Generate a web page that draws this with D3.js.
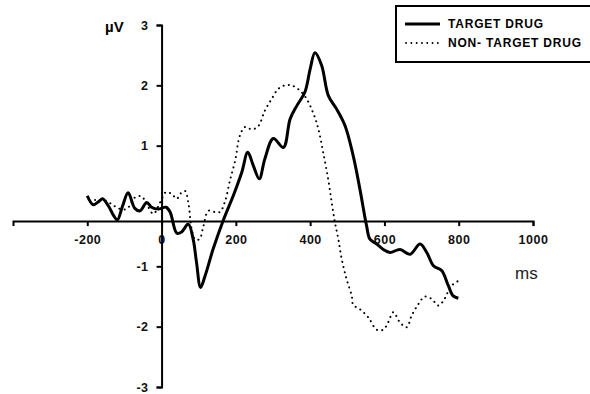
<!DOCTYPE html>
<html>
<head>
<meta charset="utf-8">
<script src="https://cdn.jsdelivr.net/npm/d3@7"></script>
<style>
  body { margin: 0; background: white; }
  text { font-family: "Liberation Sans", Arial, sans-serif; }
</style>
</head>
<body>
<script>
var width = 590, height = 394

// target drug ERP (ms, uV)
var targetTime = [-200, -184, -168, -159, -143, -130, -119, -105, -90, -72, -58, -40, -27, -9, 12, 23, 41, 54, 72, 85, 94, 105, 117, 139, 166, 193, 216, 232, 247, 263, 278, 301, 328, 346, 364, 386, 400, 413, 431, 449, 471, 494, 516, 534, 552, 561, 579, 597, 615, 642, 669, 696, 714, 732, 754, 772, 785, 799]
var targetAmp = [0.17, 0.02, 0.08, 0.12, 0.0, -0.15, -0.23, 0.0, 0.22, -0.04, -0.08, 0.06, -0.02, -0.05, -0.02, -0.1, -0.45, -0.43, -0.3, -0.55, -0.93, -1.35, -1.16, -0.71, -0.24, 0.17, 0.56, 0.89, 0.67, 0.45, 0.78, 1.12, 0.97, 1.44, 1.66, 1.89, 2.27, 2.54, 2.33, 1.83, 1.61, 1.33, 0.83, 0.28, -0.33, -0.55, -0.63, -0.72, -0.77, -0.72, -0.8, -0.63, -0.77, -0.99, -1.07, -1.32, -1.49, -1.53]

// non-target drug ERP (ms, uV)
var nonTargetTime = [-179, -152, -134, -116, -94, -72, -54, -40, -22, -4, 12, 27, 41, 50, 63, 72, 81, 90, 102, 112, 126, 144, 157, 171, 184, 198, 211, 225, 243, 260, 278, 296, 314, 332, 350, 373, 391, 409, 422, 435, 449, 458, 467, 476, 485, 498, 512, 516, 534, 557, 579, 597, 610, 624, 642, 660, 673, 691, 709, 727, 745, 759, 768, 781, 799]
var nonTargetAmp = [0.1, 0.09, 0.03, -0.04, -0.05, 0.14, 0.16, 0.03, -0.13, 0.06, 0.23, 0.2, 0.12, 0.2, 0.25, 0.06, -0.38, -0.55, -0.55, -0.35, -0.08, -0.1, -0.1, 0.08, 0.42, 0.75, 1.17, 1.31, 1.27, 1.32, 1.58, 1.77, 1.94, 2.0, 2.0, 1.91, 1.77, 1.53, 1.28, 0.89, 0.43, 0.06, -0.28, -0.55, -0.88, -1.21, -1.49, -1.64, -1.71, -1.85, -2.05, -2.05, -1.93, -1.76, -1.93, -2.01, -1.82, -1.63, -1.5, -1.54, -1.65, -1.57, -1.46, -1.32, -1.24]

var xTicks = [-200, 0, 200, 400, 600, 800, 1000]
var yTicks = [-3, -2, -1, 1, 2, 3]
var legendLabels = ["TARGET DRUG", "NON- TARGET DRUG"]

var svg = d3.select("body").append("svg")
    .attr("width", width).attr("height", height)
    .style("background", "white")

var xScale = d3.scaleLinear().domain([-400, 1000]).range([13, 533])
var yScale = d3.scaleLinear().domain([-3, 3]).range([387, 25])

// x axis crosses a little below zero, as in the original figure
var xAxis = d3.axisBottom(xScale)
    .tickValues(xTicks)
    .tickFormat(d => String(d))
    .tickSizeInner(5).tickSizeOuter(5).tickPadding(9)
var yAxis = d3.axisLeft(yScale)
    .tickValues(yTicks)
    .tickFormat(d => String(d))
    .tickSizeInner(5).tickSizeOuter(5).tickPadding(8)

var gx = svg.append("g")
    .attr("transform", "translate(0," + yScale(-0.25) + ")")
    .call(xAxis)
var gy = svg.append("g")
    .attr("transform", "translate(" + xScale(0) + ",0)")
    .call(yAxis)

svg.selectAll(".domain, .tick line")
    .attr("stroke", "#000").attr("stroke-width", 2)
svg.selectAll(".tick text")
    .attr("fill", "#111")
    .style("font-size", "12.5px").style("font-weight", "bold")
    .style("letter-spacing", "0.5px")

// axis titles
svg.append("text")
    .attr("x", 105).attr("y", 32)
    .style("font-size", "15px").style("font-weight", "bold")
    .text("µV")
svg.append("text")
    .attr("x", 515).attr("y", 279)
    .style("font-size", "17px")
    .attr("fill", "#222")
    .text("ms")

// waveforms
var line = d3.line()
    .x(d => xScale(d[0]))
    .y(d => yScale(d[1]))
    .curve(d3.curveCatmullRom)

svg.append("path")
    .datum(d3.zip(nonTargetTime, nonTargetAmp))
    .attr("d", line)
    .attr("fill", "none").attr("stroke", "#000")
    .attr("stroke-width", 2)
    .attr("stroke-linecap", "round")
    .attr("stroke-dasharray", "0.1,5.2")

svg.append("path")
    .datum(d3.zip(targetTime, targetAmp))
    .attr("d", line)
    .attr("fill", "none").attr("stroke", "#000")
    .attr("stroke-width", 3)
    .attr("stroke-linejoin", "round")

// legend
var legend = svg.append("g")
legend.append("rect")
    .attr("x", 396).attr("y", 6).attr("width", 200).attr("height", 56)
    .attr("fill", "white").attr("stroke", "#000").attr("stroke-width", 2)
legend.append("line")
    .attr("x1", 405).attr("x2", 440).attr("y1", 24).attr("y2", 24)
    .attr("stroke", "#000").attr("stroke-width", 3)
legend.append("line")
    .attr("x1", 406).attr("x2", 440).attr("y1", 43).attr("y2", 43)
    .attr("stroke", "#000").attr("stroke-width", 1.8)
    .attr("stroke-linecap", "round")
    .attr("stroke-dasharray", "0.1,5.2")
legend.selectAll("text.lab")
    .data(legendLabels).enter().append("text")
    .attr("class", "lab")
    .attr("x", 448).attr("y", (d, i) => 28 + i * 19)
    .style("font-size", "12px").style("font-weight", "bold")
    .style("letter-spacing", "0.8px")
    .text(d => d)
</script>
</body>
</html>
